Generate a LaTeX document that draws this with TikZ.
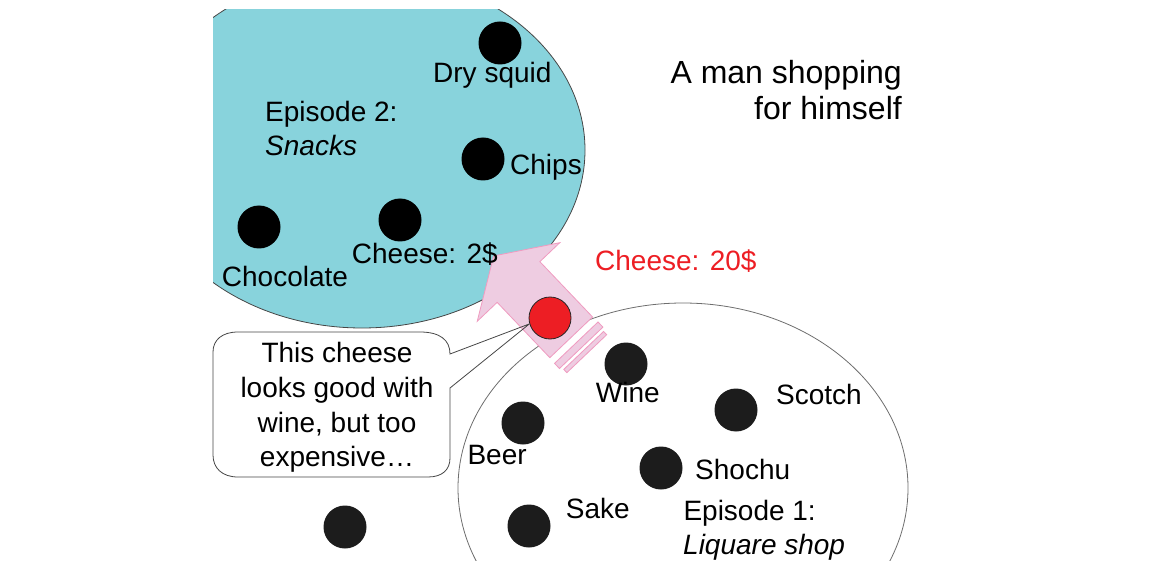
\documentclass[tikz,border=0pt]{standalone}
\usepackage{fontspec}
\setmainfont{Liberation Sans}
\definecolor{snack}{RGB}{136,211,220}
\definecolor{edgegray}{RGB}{70,70,70}
\definecolor{shopgray}{RGB}{110,110,110}
\definecolor{pinkfill}{RGB}{238,204,225}
\definecolor{pinkline}{RGB}{240,155,192}
\definecolor{cheesered}{RGB}{237,30,36}
\definecolor{darkdot}{RGB}{28,28,28}
\begin{document}
\begin{tikzpicture}[x=1pt,y=-1pt,
  lbl/.style={inner sep=0pt, anchor=base west, font=\fontsize{28}{34}\selectfont},
  bub/.style={inner sep=0pt, anchor=base, font=\fontsize{28}{34}\selectfont},
  ttl/.style={inner sep=0pt, anchor=base east, font=\fontsize{32}{36}\selectfont},
  dotA/.style={circle, inner sep=0pt, minimum size=43pt, fill=black},
  dotB/.style={circle, inner sep=0pt, minimum size=43pt, fill=darkdot},
  reddot/.style={circle, inner sep=0pt, minimum size=42pt, fill=cheesered, draw=black!85, line width=0.8pt},
  pinkshape/.style={fill=pinkfill, draw=pinkline, line width=0.8pt},
  thinline/.style={draw=edgegray, line width=0.8pt}]
\useasboundingbox (0,0) rectangle (1150,561);
% Episode 2 area
\begin{scope}
  \clip (213,10) rectangle (1150,561);
  \filldraw[fill=snack, draw=edgegray, line width=0.8pt] (362,150) ellipse [x radius=223pt, y radius=178pt];
\end{scope}
% Episode 1 area
\begin{scope}
  \clip (0,0) rectangle (1150,561);
  \filldraw[fill=white, draw=shopgray, line width=0.8pt] (683,488) ellipse [x radius=225pt, y radius=185pt];
\end{scope}
% block arrow
\begin{scope}[shift={(518.5,282)}, rotate=-46.4]
  \filldraw[pinkshape] (-36,0) -- (0,-57) -- (0,-29.5) -- (76.4,-29.5) -- (76.4,29.5) -- (0,29.5) -- (0,57) -- cycle;
  \filldraw[pinkshape] (83.8,-30) rectangle (90.9,30);
  \filldraw[pinkshape] (94.5,-27.5) rectangle (99,27.5);
\end{scope}
% red cheese
\node[reddot] (cheese) at (550,318) {};
% speech bubble
\coordinate (pa) at (450,354);
\coordinate (pb) at (450,388);
\fill[white] (238,332) -- (420,332) .. controls (440,332) and (450,340) .. (450,354) -- (450,458) .. controls (450,470) and (442,477) .. (428,477) -- (238,477) .. controls (222,477) and (213,468) .. (213,455) -- (213,352) .. controls (213,340) and (222,332) .. (238,332) -- cycle;
\draw[thinline] (cheese.196) -- (pb) -- (450,458) .. controls (450,470) and (442,477) .. (428,477) -- (238,477) .. controls (222,477) and (213,468) .. (213,455) -- (213,352) .. controls (213,340) and (222,332) .. (238,332) -- (420,332) .. controls (440,332) and (450,340) .. (pa) -- (cheese.196);
\node[bub] (say1) at (337,362) {This cheese};
\node[bub] (say2) at (337,397.7) {looks good with};
\node[bub] (say3) at (337,432) {wine, but too};
\node[bub] (say4) at (337,466.7) {expensive…};
% snack dots
\node[dotA] (dsquid) at (500,43) {};
\node[dotA] (chips) at (483,159) {};
\node[dotA] (cheap) at (400,220) {};
\node[dotA] (choco) at (259,227) {};
% shop dots
\node[dotB] (wine) at (626,364) {};
\node[dotB] (scotch) at (736,410) {};
\node[dotB] (beer) at (523,423) {};
\node[dotB] (shochu) at (661,468) {};
\node[dotB] (sake) at (529,526) {};
\node[dotB] (lone) at (345,527) {};
% labels
\node[lbl] (tdsquid) at (433,83) {Dry squid};
\node[lbl] (tep2a) at (265,121.7) {Episode 2:};
\node[lbl] (tep2b) at (265,156) {\itshape Snacks};
\node[lbl] (tchips) at (510,175) {Chips};
\node[lbl] (tcheap) at (351.7,263.3) {Cheese: 2\$};
\node[lbl] (tchoco) at (221.7,286.7) {Chocolate};
\node[lbl, text=cheesered] (tdear) at (595,270.7) {Cheese: 20\$};
\node[lbl] (twine) at (595.7,402.7) {Wine};
\node[lbl] (tscotch) at (776,404) {Scotch};
\node[lbl] (tbeer) at (467.3,464) {Beer};
\node[lbl] (tshochu) at (695,479.3) {Shochu};
\node[lbl] (tsake) at (565.7,518.3) {Sake};
\node[lbl] (tep1a) at (683.3,520.7) {Episode 1:};
\node[lbl] (tep1b) at (683,554) {\itshape Liquare shop};
\node[ttl] (title1) at (902,83.3) {A man shopping};
\node[ttl] (title2) at (902,119.3) {for himself};
\end{tikzpicture}
\end{document}
